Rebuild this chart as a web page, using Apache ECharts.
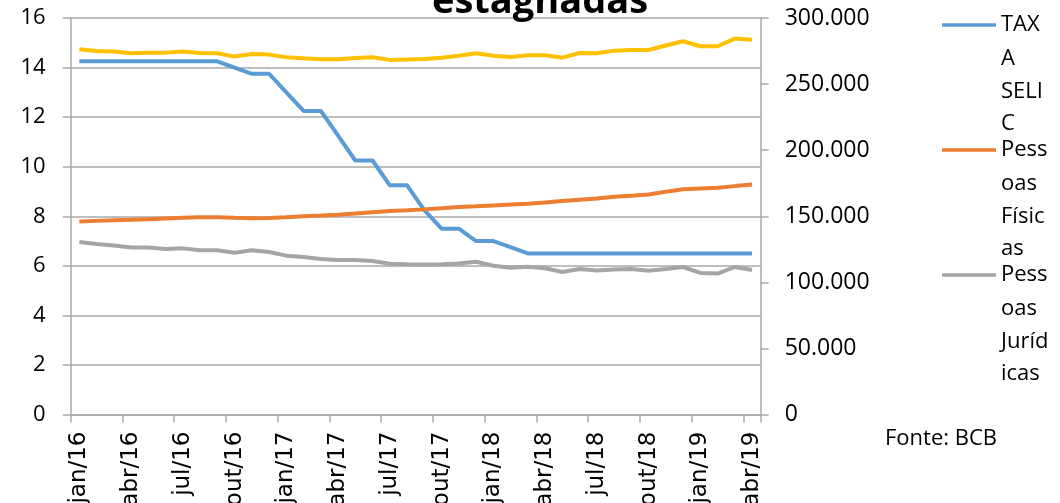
<!DOCTYPE html>
<html>
<head>
<meta charset="utf-8">
<script src="https://cdn.jsdelivr.net/npm/echarts@6/dist/echarts.min.js"></script>
<style>
html,body{margin:0;padding:0;background:#fff;}
#chart{width:1060px;height:503px;}
</style>
</head>
<body>
<div id="chart"></div>
<script>
var categories = ['jan/16','fev/16','mar/16','abr/16','mai/16','jun/16','jul/16','ago/16','set/16','out/16','nov/16','dez/16',
  'jan/17','fev/17','mar/17','abr/17','mai/17','jun/17','jul/17','ago/17','set/17','out/17','nov/17','dez/17',
  'jan/18','fev/18','mar/18','abr/18','mai/18','jun/18','jul/18','ago/18','set/18','out/18','nov/18','dez/18',
  'jan/19','fev/19','mar/19','abr/19'];

var selic = [14.25,14.25,14.25,14.25,14.25,14.25,14.25,14.25,14.25,14.0,13.75,13.75,
  13.0,12.25,12.25,11.25,10.25,10.25,9.25,9.25,8.25,7.5,7.5,7.0,
  7.0,6.75,6.5,6.5,6.5,6.5,6.5,6.5,6.5,6.5,6.5,6.5,
  6.5,6.5,6.5,6.5];

var pessoasFisicas = [146000,146500,147000,147300,147800,148300,148800,149200,149300,148800,148500,148700,
  149200,150000,150500,151200,152000,153000,154000,154500,155200,156000,157000,157500,
  158200,158800,159500,160400,161500,162500,163500,164800,165500,166500,168500,170500,
  171000,171500,172800,174000];

var pessoasJuridicas = [130500,129000,127800,126400,126400,125200,125700,124200,124200,122400,124200,123000,
  120200,119200,117700,116900,116900,116200,114100,113600,113400,113600,114300,115600,
  112600,111100,111800,110600,107800,110100,109000,109800,110100,108800,110100,111600,
  107100,106600,111600,109400];

var total = [276300,275100,274600,273300,273800,273800,274600,273500,273300,270800,272800,272300,
  270300,269500,268800,268800,269800,270300,268300,268600,269000,270000,271500,273300,
  271500,270500,271800,271800,270000,273500,273300,275300,275800,275800,279200,282400,
  278600,278600,284400,283600];

var leftTicks = {min: 0, max: 16, interval: 2};
var rightTicks = {min: 0, max: 300000, interval: 50000};

var seriesNames = ['TAXA SELIC', 'Pessoas Físicas', 'Pessoas Jurídicas', 'Total'];
var legendFirstLine = {'TAXA SELIC': 'TAX', 'Pessoas Físicas': 'Pess', 'Pessoas Jurídicas': 'Pess'};
var legendRestLines = ['A\nSELI\nC', 'oas\nFísic\nas', 'oas\nJuríd\nicas'];

var gridColor = '#a9a9a9';
var legendLineH = 32.5;
var legendStep = 125;
var legendTop0 = 8.75;

var chart = echarts.init(document.getElementById('chart'), null, {renderer: 'canvas'});

function fmtThousands(v) {
  return String(v).replace(/\B(?=(\d{3})+(?!\d))/g, '.');
}

var graphics = [{
  type: 'text',
  left: 885,
  top: 428,
  style: {text: 'Fonte: BCB', font: '22px "Open Sans"', fill: '#000'}
}];
legendRestLines.forEach(function (t, i) {
  graphics.push({
    type: 'text',
    left: 1001,
    top: legendTop0 + legendLineH + 1.5 + i * legendStep,
    style: {text: t, font: '22px "Open Sans"', lineHeight: legendLineH, fill: '#000'}
  });
});

var option = {
  backgroundColor: '#ffffff',
  animation: false,
  title: {
    text: 'estagnadas',
    left: 432,
    top: -17,
    padding: 0,
    textStyle: {fontFamily: 'Open Sans', fontWeight: 'bold', fontSize: 38, color: '#000'}
  },
  legend: {
    data: seriesNames.slice(0, 3),
    orient: 'vertical',
    left: 942,
    top: legendTop0,
    padding: 0,
    itemWidth: 54,
    itemHeight: 3.5,
    itemGap: legendStep - legendLineH,
    icon: 'rect',
    formatter: function (n) { return legendFirstLine[n] || n; },
    textStyle: {fontFamily: 'Open Sans', fontSize: 22, lineHeight: legendLineH, color: '#000'}
  },
  graphic: graphics,
  grid: {left: 70.7, right: 299.3, top: 18, bottom: 88.5, containLabel: false, outerBoundsMode: 'none'},
  xAxis: {
    type: 'category',
    data: categories,
    boundaryGap: true,
    axisLine: {show: true, lineStyle: {color: gridColor, width: 1.5}},
    axisTick: {show: true, interval: 2, length: 8, alignWithLabel: false, lineStyle: {color: gridColor, width: 1.5}},
    axisLabel: {interval: 2, rotate: 90, margin: 17, fontFamily: 'DejaVu Sans', fontSize: 23, color: '#000'},
    splitLine: {show: false}
  },
  yAxis: [{
    type: 'value',
    min: leftTicks.min, max: leftTicks.max, interval: leftTicks.interval,
    axisLine: {show: true, lineStyle: {color: gridColor, width: 1.5}},
    axisTick: {show: true, length: 8, lineStyle: {color: gridColor, width: 1.5}},
    axisLabel: {margin: 25, fontFamily: 'Open Sans', fontSize: 22, color: '#000'},
    splitLine: {show: true, lineStyle: {color: gridColor, width: 1.5}}
  }, {
    type: 'value',
    position: 'right',
    min: rightTicks.min, max: rightTicks.max, interval: rightTicks.interval,
    axisLine: {show: true, lineStyle: {color: gridColor, width: 1.5}},
    axisTick: {show: true, length: 8, lineStyle: {color: gridColor, width: 1.5}},
    axisLabel: {margin: 24, fontFamily: 'Open Sans', fontSize: 23, color: '#000', formatter: fmtThousands},
    splitLine: {show: false}
  }],
  series: [{
    name: seriesNames[0], type: 'line', yAxisIndex: 0, data: selic,
    symbol: 'none', lineStyle: {width: 4, color: '#5B9BD5'}, itemStyle: {color: '#5B9BD5'}
  }, {
    name: seriesNames[1], type: 'line', yAxisIndex: 1, data: pessoasFisicas,
    symbol: 'none', lineStyle: {width: 4, color: '#ED7D31'}, itemStyle: {color: '#ED7D31'}
  }, {
    name: seriesNames[2], type: 'line', yAxisIndex: 1, data: pessoasJuridicas,
    symbol: 'none', lineStyle: {width: 4, color: '#A5A5A5'}, itemStyle: {color: '#A5A5A5'}
  }, {
    name: seriesNames[3], type: 'line', yAxisIndex: 1, data: total,
    symbol: 'none', lineStyle: {width: 4, color: '#FFC000'}, itemStyle: {color: '#FFC000'}
  }]
};
chart.setOption(option);
</script>
</body>
</html>
